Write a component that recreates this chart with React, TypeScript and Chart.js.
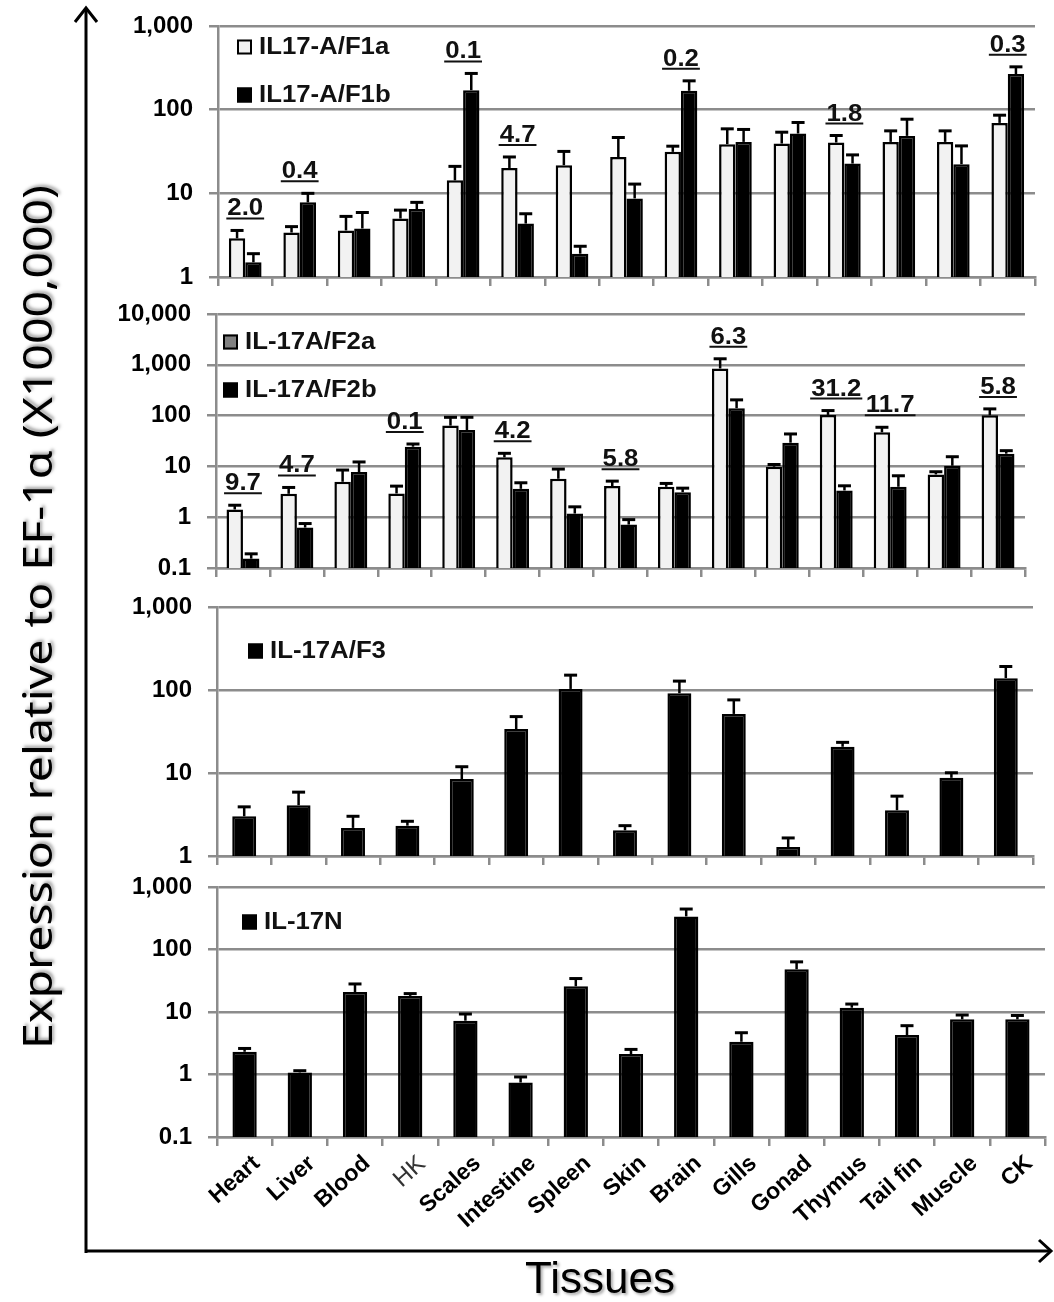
import React, { useEffect, useRef } from 'react';
import { Chart, registerables } from 'chart.js';
Chart.register(...registerables);

// ---------- data ----------
const tissues = ['Heart', 'Liver', 'Blood', 'HK', 'Scales', 'Intestine', 'Spleen', 'Skin', 'Brain', 'Gills', 'Gonad', 'Thymus', 'Tail fin', 'Muscle', 'CK'];

const f1aMean = [2.9, 3.4, 3.6, 5.0, 14.3, 20.1, 21.7, 27.2, 31.3, 38.7, 39.4, 40.5, 41.2, 41.2, 69.5];
const f1aSd = [0.7, 0.6, 1.7, 1.3, 6.7, 7.1, 10.0, 19.3, 5.3, 20.3, 14.4, 8.6, 14.6, 14.6, 16.4];
const f1bMean = [1.5, 7.8, 3.8, 6.5, 171, 4.35, 1.9, 8.7, 168, 41.2, 51.9, 22.7, 48.6, 22.3, 266];
const f1bSd = [0.4, 2.2, 2.1, 1.3, 100, 1.35, 0.43, 4.2, 53, 16.8, 18.4, 6.1, 28.3, 14.6, 59];
const f1Ratio = ['2.0', '0.4', '', '', '0.1', '4.7', '', '', '0.2', '', '', '1.8', '', '', '0.3'];
const f1Ticks = [1, 10, 100, 1000];

const f2aMean = [1.42, 2.89, 4.98, 2.93, 63.5, 15.1, 5.71, 4.09, 3.97, 847, 9.85, 103, 46.9, 6.95, 101.5];
const f2aSd = [0.3, 0.96, 3.5, 1.16, 29, 3.0, 3.15, 1.04, 0.65, 466, 1.05, 22.6, 12.0, 0.9, 34];
const f2bMean = [0.153, 0.625, 7.73, 24.4, 52.1, 3.62, 1.18, 0.716, 3.11, 140, 29.3, 3.36, 3.97, 10.3, 17.8];
const f2bSd = [0.037, 0.125, 4.5, 3.2, 40.6, 1.14, 0.42, 0.18, 0.62, 64, 14.2, 0.79, 2.57, 5.2, 2.6];
const f2Ratio = ['9.7', '4.7', '', '0.1', '', '4.2', '', '5.8', '', '6.3', '', '31.2', '11.7', '', '5.8'];
const f2Ticks = [0.1, 1, 10, 100, 1000, 10000];

const f3Mean = [3.01, 4.09, 2.18, 2.32, 8.44, 33.9, 103, 2.04, 91.5, 51.5, 1.28, 20.7, 3.56, 8.75, 139];
const f3Sd = [0.9, 1.79, 0.83, 0.3, 3.46, 13.9, 48, 0.28, 36.5, 24.5, 0.37, 2.7, 1.7, 1.32, 53];
const f3Ticks = [1, 10, 100, 1000];

const nMean = [2.31, 1.08, 20.9, 18.1, 7.26, 0.744, 25.8, 2.12, 338, 3.34, 48.3, 11.7, 4.28, 7.63, 7.63];
const nSd = [0.3, 0.07, 7.2, 1.6, 2.03, 0.17, 8.5, 0.4, 106, 1.32, 15.1, 1.7, 1.76, 1.32, 1.17];
const nTicks = [0.1, 1, 10, 100, 1000];

// ---------- styling / layout ----------
const GRID = '#8c8c8c';
const WHITE_BAR = '#f2f2f2';
const BLACK = '#000000';
const STRETCH = 1.12;
const FONT = "'Liberation Sans', Arial, sans-serif";

type Series = { label: string; mean: number[]; sd: number[]; fill: string; legendFill: string };
type Panel = {
  top: number; height: number; areaTop: number; areaBottom: number; left: number; right: number;
  ticks: number[]; series: Series[]; ratios?: string[]; showX: boolean;
  legendX: number; legendY: number; legendGap: number; catPct: number;
};

const panels: Panel[] = [
  {
    top: 0, height: 292, areaTop: 26, areaBottom: 277, left: 218, right: 1035, ticks: f1Ticks,
    series: [
      { label: 'IL17-A/F1a', mean: f1aMean, sd: f1aSd, fill: WHITE_BAR, legendFill: WHITE_BAR },
      { label: 'IL17-A/F1b', mean: f1bMean, sd: f1bSd, fill: BLACK, legendFill: BLACK },
    ],
    ratios: f1Ratio, showX: false, legendX: 237, legendY: 47, legendGap: 48, catPct: 0.6,
  },
  {
    top: 292, height: 290, areaTop: 314, areaBottom: 568, left: 216, right: 1025, ticks: f2Ticks,
    series: [
      { label: 'IL-17A/F2a', mean: f2aMean, sd: f2aSd, fill: WHITE_BAR, legendFill: '#808080' },
      { label: 'IL-17A/F2b', mean: f2bMean, sd: f2bSd, fill: BLACK, legendFill: BLACK },
    ],
    ratios: f2Ratio, showX: false, legendX: 223, legendY: 342, legendGap: 48, catPct: 0.61,
  },
  {
    top: 582, height: 288, areaTop: 607, areaBottom: 856, left: 217, right: 1033, ticks: f3Ticks,
    series: [{ label: 'IL-17A/F3', mean: f3Mean, sd: f3Sd, fill: BLACK, legendFill: BLACK }],
    showX: false, legendX: 248, legendY: 651, legendGap: 0, catPct: 0.44,
  },
  {
    top: 870, height: 375, areaTop: 887, areaBottom: 1137, left: 217, right: 1045, ticks: nTicks,
    series: [{ label: 'IL-17N', mean: nMean, sd: nSd, fill: BLACK, legendFill: BLACK }],
    showX: true, legendX: 242, legendY: 922, legendGap: 0, catPct: 0.44,
  },
];

const fmt = (v: number) => (v < 1 ? String(v) : String(v).replace(/\B(?=(\d{3})+(?!\d))/g, ','));

function PanelChart({ p }: { p: Panel }) {
  const ref = useRef<HTMLCanvasElement | null>(null);
  useEffect(() => {
    const canvas = ref.current;
    if (!canvas) return;

    const errPlugin = {
      id: 'errbars',
      afterDatasetsDraw(chart: any) {
        const ctx = chart.ctx;
        const y = chart.scales.y;
        p.series.forEach((s, di) => {
          const meta = chart.getDatasetMeta(di);
          meta.data.forEach((bar: any, i: number) => {
            const top = y.getPixelForValue(s.mean[i] + s.sd[i]);
            ctx.save();
            ctx.strokeStyle = '#000';
            ctx.lineWidth = 2.5;
            ctx.beginPath();
            ctx.moveTo(bar.x, bar.y);
            ctx.lineTo(bar.x, top);
            ctx.stroke();
            ctx.lineWidth = 3;
            ctx.beginPath();
            ctx.moveTo(bar.x - 6.5, top);
            ctx.lineTo(bar.x + 6.5, top);
            ctx.stroke();
            ctx.restore();
          });
        });
      },
    };

    const ratioPlugin = {
      id: 'ratios',
      afterDatasetsDraw(chart: any) {
        if (!p.ratios) return;
        const ctx = chart.ctx;
        const x = chart.scales.x;
        const y = chart.scales.y;
        p.ratios.forEach((txt, i) => {
          if (!txt) return;
          const topVal = Math.max(...p.series.map((s) => s.mean[i] + s.sd[i]));
          const py = y.getPixelForValue(topVal);
          const cx = x.getPixelForValue(i);
          const under = py - 12;
          const base = under - 3;
          ctx.save();
          ctx.font = `bold 23px ${FONT}`;
          ctx.fillStyle = '#111';
          const w = ctx.measureText(txt).width * STRETCH;
          ctx.translate(cx, base);
          ctx.scale(STRETCH, 1);
          ctx.textAlign = 'center';
          ctx.textBaseline = 'alphabetic';
          ctx.fillText(txt, 0, 0);
          ctx.restore();
          ctx.save();
          ctx.strokeStyle = '#111';
          ctx.lineWidth = 2;
          ctx.beginPath();
          ctx.moveTo(cx - w / 2 - 1, under);
          ctx.lineTo(cx + w / 2 + 1, under);
          ctx.stroke();
          ctx.restore();
        });
      },
    };

    const legendPlugin = {
      id: 'panelLegend',
      afterDraw(chart: any) {
        const ctx = chart.ctx;
        p.series.forEach((s, k) => {
          const cy = p.legendY - p.top + k * p.legendGap;
          ctx.save();
          ctx.fillStyle = s.legendFill;
          ctx.strokeStyle = '#000';
          ctx.lineWidth = 2;
          ctx.fillRect(p.legendX, cy - 7.5, 15, 15);
          ctx.strokeRect(p.legendX + 1, cy - 6.5, 13, 13);
          ctx.restore();
          ctx.save();
          ctx.font = `bold 23px ${FONT}`;
          ctx.fillStyle = '#111';
          ctx.textBaseline = 'middle';
          ctx.textAlign = 'left';
          ctx.translate(p.legendX + 22, cy + 1);
          ctx.scale(STRETCH, 1);
          ctx.fillText(s.label, 0, 0);
          ctx.restore();
        });
      },
    };

    const chart = new Chart(canvas, {
      type: 'bar',
      data: {
        labels: tissues,
        datasets: p.series.map((s) => ({
          label: s.label,
          data: s.mean,
          backgroundColor: s.fill,
          borderColor: '#000',
          borderWidth: 2.5,
          categoryPercentage: p.catPct,
          barPercentage: 1,
        })),
      },
      options: {
        responsive: false,
        animation: false,
        layout: { autoPadding: false, padding: { top: p.areaTop - p.top, right: 1054 - p.right, left: 0, bottom: 0 } },
        plugins: { legend: { display: false }, tooltip: { enabled: false }, title: { display: false } },
        scales: {
          x: {
            type: 'category',
            offset: true,
            grid: { offset: true, drawOnChartArea: false, drawTicks: true, tickLength: 9, color: GRID, lineWidth: 2.5 },
            border: { display: true, color: GRID, width: 2.5 },
            ticks: {
              display: p.showX,
              autoSkip: false,
              maxRotation: 42,
              minRotation: 42,
              labelOffset: 12,
              padding: 4,
              color: (c: any) => (c.index === 3 ? '#333' : '#000'),
              font: (c: any) => (c.index === 3 ? { family: FONT, size: 24, weight: 'normal' } : { family: FONT, size: 23, weight: 'bold' }),
            },
            afterFit: (s: any) => {
              s.height = p.top + p.height - p.areaBottom;
              s.paddingLeft = 0;
              s.paddingRight = 0;
            },
          },
          y: {
            type: 'logarithmic',
            min: p.ticks[0],
            max: p.ticks[p.ticks.length - 1],
            afterBuildTicks: (s: any) => { s.ticks = p.ticks.map((v) => ({ value: v })); },
            grid: { color: GRID, lineWidth: 2.5, tickLength: 9, drawTicks: true },
            border: { display: true, color: GRID, width: 2.5 },
            ticks: {
              autoSkip: false,
              padding: 16,
              color: '#000',
              font: { family: FONT, size: 24, weight: 'bold' },
              callback: (v: any) => fmt(Number(v)),
            },
            afterFit: (s: any) => {
              s.width = p.left;
              s.paddingTop = 0;
              s.paddingBottom = 0;
            },
          },
        },
      } as any,
      plugins: [errPlugin, ratioPlugin, legendPlugin],
    });
    return () => chart.destroy();
  }, [p]);

  return (
    <canvas
      ref={ref}
      width={1054}
      height={p.height}
      style={{ position: 'absolute', left: 0, top: p.top, width: 1054, height: p.height }}
    />
  );
}

export default function App() {
  useEffect(() => {
    document.body.style.margin = '0';
  }, []);
  return (
    <div style={{ position: 'absolute', left: 0, top: 0, width: 1054, height: 1302, background: '#fff', overflow: 'hidden' }}>
      {panels.map((p, i) => (
        <PanelChart key={i} p={p} />
      ))}
      <svg width={1054} height={1302} style={{ position: 'absolute', left: 0, top: 0, pointerEvents: 'none' }}>
        <line x1={86} y1={1253} x2={86} y2={9} stroke="#000" strokeWidth={3} />
        <polyline points="75,22 86,8 97,22" fill="none" stroke="#000" strokeWidth={3} />
        <line x1={85} y1={1251} x2={1051} y2={1251} stroke="#000" strokeWidth={3} />
        <polyline points="1039,1240 1051,1251 1039,1262" fill="none" stroke="#000" strokeWidth={3} />
      </svg>
      <div
        style={{
          position: 'absolute', left: 37, top: 617, transform: 'translate(-50%, -50%) rotate(-90deg) scaleX(1.16)',
          whiteSpace: 'nowrap', fontFamily: "'Noto Sans', sans-serif", fontSize: 40, color: '#000',
          textShadow: '2px 2px 3px rgba(0,0,0,0.35)', lineHeight: 1,
        }}
      >
        Expression relative to EF-1α (X1000,000)
      </div>
      <div
        style={{
          position: 'absolute', left: 600, top: 1278, transform: 'translate(-50%, -50%)',
          whiteSpace: 'nowrap', fontFamily: FONT, fontSize: 44, color: '#000',
          textShadow: '2px 2px 3px rgba(0,0,0,0.35)', lineHeight: 1,
        }}
      >
        Tissues
      </div>
    </div>
  );
}
